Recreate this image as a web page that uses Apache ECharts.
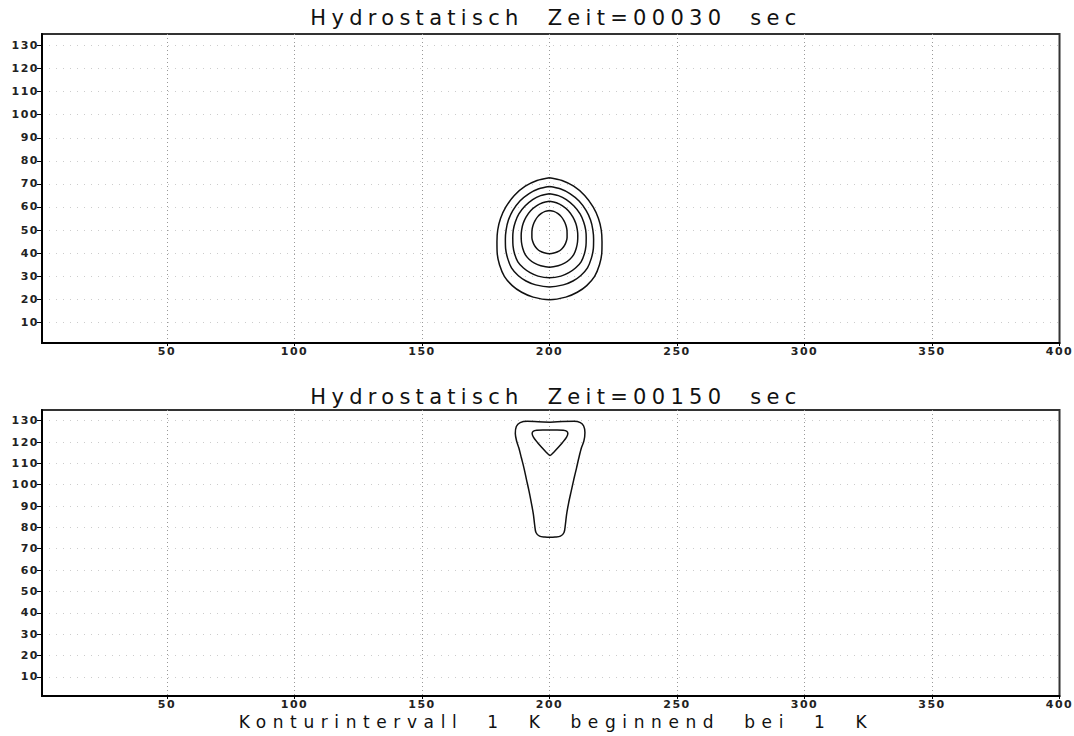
<!DOCTYPE html>
<html>
<head>
<meta charset="utf-8">
<title>Hydrostatisch</title>
<script src="https://cdn.jsdelivr.net/npm/echarts@6/dist/echarts.min.js"></script>
<style>
  html, body { margin: 0; padding: 0; background: #fff; }
  #chart { width: 1074px; height: 736px; }
</style>
</head>
<body>
<div id="chart"></div>
<script>
// axis ticks
const xTicks = [50, 100, 150, 200, 250, 300, 350, 400];
const yTicks = [10, 20, 30, 40, 50, 60, 70, 80, 90, 100, 110, 120, 130];

// contours at t=30 s as (x, z), outer to inner
const c30a = [[200, 72.7], [204.9, 71.5], [209.5, 69.0], [213.8, 65.0], [217.1, 60.0], [219.2, 55.0], [220.3, 50.0], [220.6, 44.9], [220.5, 39.9], [219.6, 34.9], [217.7, 29.9], [214.6, 25.9], [210.9, 23.0], [206.4, 20.9], [200, 19.8],
  [193.6, 20.9], [189.1, 23.0], [185.4, 25.9], [182.3, 29.9], [180.4, 34.9], [179.5, 39.9], [179.4, 44.9], [179.7, 50.0], [180.8, 55.0], [182.9, 60.0], [186.2, 65.0], [190.5, 69.0], [195.1, 71.5], [200, 72.7]];
const c30b = [[200, 68.9], [204.2, 67.9], [208.0, 65.8], [211.6, 62.6], [214.4, 58.4], [216.1, 54.3], [217.0, 50.1], [217.3, 46.0], [217.2, 41.9], [216.4, 37.7], [214.9, 33.6], [212.3, 30.3], [209.2, 27.9], [205.4, 26.2], [200, 25.3],
  [194.6, 26.2], [190.8, 27.9], [187.7, 30.3], [185.1, 33.6], [183.6, 37.7], [182.8, 41.9], [182.7, 46.0], [183.0, 50.1], [183.9, 54.3], [185.6, 58.4], [188.4, 62.6], [192.0, 65.8], [195.8, 67.9], [200, 68.9]];
const c30c = [[200, 65.7], [203.5, 64.9], [206.6, 63.2], [209.6, 60.4], [212.0, 57.0], [213.4, 53.5], [214.2, 50.0], [214.4, 46.6], [214.3, 43.1], [213.7, 39.7], [212.4, 36.2], [210.2, 33.5], [207.6, 31.5], [204.5, 30.0], [200, 29.3],
  [195.5, 30.0], [192.4, 31.5], [189.8, 33.5], [187.6, 36.2], [186.3, 39.7], [185.7, 43.1], [185.6, 46.6], [185.8, 50.0], [186.6, 53.5], [188.0, 57.0], [190.4, 60.4], [193.4, 63.2], [196.5, 64.9], [200, 65.7]];
const c30d = [[200, 62.5], [202.7, 61.8], [205.1, 60.5], [207.4, 58.4], [209.2, 55.6], [210.3, 52.9], [210.9, 50.2], [211.1, 47.5], [211.0, 44.8], [210.5, 42.1], [209.5, 39.3], [207.9, 37.2], [205.9, 35.6], [203.4, 34.5], [200, 33.9],
  [196.6, 34.5], [194.1, 35.6], [192.1, 37.2], [190.5, 39.3], [189.5, 42.1], [189.0, 44.8], [188.9, 47.5], [189.1, 50.2], [189.7, 52.9], [190.8, 55.6], [192.6, 58.4], [194.9, 60.5], [197.3, 61.8], [200, 62.5]];
const c30e = [[200, 58.5], [201.7, 58.1], [203.2, 57.2], [204.6, 55.8], [205.7, 54.0], [206.4, 52.2], [206.8, 50.4], [206.9, 48.6], [206.9, 46.8], [206.6, 45.1], [205.9, 43.3], [204.9, 41.9], [203.7, 40.8], [202.1, 40.1], [200, 39.7],
  [197.9, 40.1], [196.3, 40.8], [195.1, 41.9], [194.1, 43.3], [193.4, 45.1], [193.1, 46.8], [193.1, 48.6], [193.2, 50.4], [193.6, 52.2], [194.3, 54.0], [195.4, 55.8], [196.8, 57.2], [198.3, 58.1], [200, 58.5]];

// contours at t=150 s
const c150a = [[200.2, 129.3], [205.0, 129.6], [209.6, 129.7], [212.1, 129.1], [213.4, 127.5], [213.9, 124.5], [213.5, 120.5], [212.5, 117.2], [211.5, 112.5], [210.6, 107.8], [209.5, 102.3], [208.5, 96.9], [207.5, 91.4], [206.7, 86.0], [206.2, 81.0], [205.7, 77.6], [204.3, 75.9], [202.2, 75.5],
  [200.2, 75.4], [198.2, 75.5], [196.1, 75.9], [194.7, 77.6], [194.2, 81.0], [193.7, 86.0], [192.9, 91.4], [192.0, 96.9], [191.0, 102.3], [190.0, 107.8], [189.0, 112.5], [188.0, 117.2], [187.1, 120.5], [186.6, 124.0], [187.0, 127.3], [188.5, 129.1], [191.3, 129.7], [195.6, 129.5], [200.2, 129.3]];
const c150b = [[200.2, 125.6], [203.0, 125.6], [205.4, 125.5], [206.8, 125.0], [207.2, 124.0], [206.7, 122.3], [205.2, 119.9], [203.4, 117.4], [201.6, 115.1], [200.2, 113.7], [198.8, 115.1], [197.0, 117.4], [195.2, 119.9], [193.7, 122.3], [193.2, 124.0], [193.6, 125.0], [195.0, 125.5], [197.4, 125.6], [200.2, 125.6]];

const titles = ['Hydrostatisch  Zeit=00030  sec', 'Hydrostatisch  Zeit=00150  sec'];
const footer = 'Konturintervall  1  K  beginnend  bei  1  K';

const labelFont = { fontFamily: 'DejaVu Sans', fontWeight: 'bold', fontSize: 11, color: '#222' };

function xAxisFor(gi) {
  return {
    type: 'value', gridIndex: gi, min: 1, max: 400,
    axisLine: { show: true, lineStyle: { color: '#000', width: 2 } },
    axisTick: { show: true, length: 3, customValues: xTicks, lineStyle: { color: '#000' } },
    axisLabel: Object.assign({ customValues: xTicks, margin: 3 }, labelFont),
    splitLine: { show: true, showMaxLine: false, lineStyle: { color: '#999', type: [1, 3], width: 1 } }
  };
}
function yAxisFor(gi) {
  return {
    type: 'value', gridIndex: gi, min: 1, max: 135,
    axisLine: { show: true, lineStyle: { color: '#000', width: 2 } },
    axisTick: { show: true, length: 5, customValues: yTicks, lineStyle: { color: '#000' } },
    axisLabel: Object.assign({ customValues: yTicks, margin: 3 }, labelFont),
    splitLine: { show: true, lineStyle: { color: '#ccc', type: [1, 6], width: 1 } }
  };
}
function contour(data, gi) {
  return {
    type: 'line', xAxisIndex: gi, yAxisIndex: gi, data: data,
    smooth: 0.3, symbol: 'none', silent: true,
    lineStyle: { color: '#111', width: 1.5 }
  };
}
function heading(text, x, y, size) {
  return {
    type: 'text', x: x, y: y, silent: true,
    style: {
      text: text, fill: '#111', font: 'normal ' + size + 'px "DejaVu Sans"',
      align: 'center', verticalAlign: 'middle', textAlign: 'center', textVerticalAlign: 'middle'
    }
  };
}

const chart = echarts.init(document.getElementById('chart'), null, { renderer: 'svg' });
chart.setOption({
  animation: false,
  backgroundColor: '#fff',
  // headings centred over the plot frame, not the page
  graphic: [
    heading(titles[0], 556, 18, 21),
    heading(titles[1], 556, 397, 21),
    heading(footer, 556, 722, 17)
  ],
  grid: [
    { left: 42, top: 34, width: 1021, height: 309, show: true, borderColor: '#333', borderWidth: 2 },
    { left: 42, top: 410, width: 1021, height: 286, show: true, borderColor: '#333', borderWidth: 2 }
  ],
  xAxis: [xAxisFor(0), xAxisFor(1)],
  yAxis: [yAxisFor(0), yAxisFor(1)],
  series: [
    contour(c30a, 0), contour(c30b, 0), contour(c30c, 0), contour(c30d, 0), contour(c30e, 0),
    contour(c150a, 1), contour(c150b, 1)
  ]
});

// the old plot font is widely spaced; zrender has no letter spacing, so add it to the svg text
const spacing = { '21px': '5.3px', '17px': '6.6px', '11px': '1.5px' };
document.querySelectorAll('#chart svg text').forEach(function (t) {
  const css = t.getAttribute('style') || '';
  Object.keys(spacing).forEach(function (k) {
    if (css.indexOf(k) >= 0) t.style.letterSpacing = spacing[k];
  });
});
</script>
</body>
</html>
